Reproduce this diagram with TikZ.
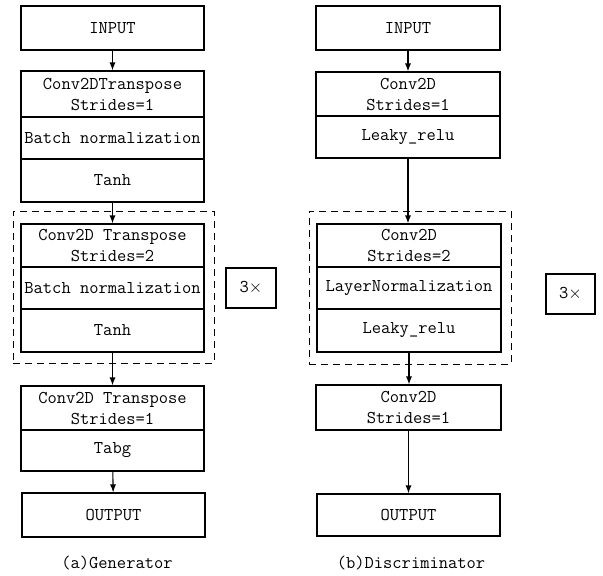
\documentclass[tikz,border=0pt]{standalone}
\usepackage{fontspec}
\usetikzlibrary{arrows.meta}
\begin{document}
\begin{tikzpicture}[x=1pt,y=-1pt,
  every node/.style={font=\ttfamily\fontsize{18}{21}\selectfont},
  blk/.style={draw, line width=1.1pt, rectangle, inner sep=0pt, align=center, minimum width=183pt},
  rep/.style={draw, line width=1.1pt, rectangle, inner sep=0pt, minimum width=50pt, minimum height=40pt},
  grp/.style={draw, line width=1pt, dash pattern=on 7pt off 5pt, rectangle, inner sep=0pt},
  arr/.style={line width=1.1pt, -{Latex[length=8pt,width=6pt]}},
  captxt/.style={inner sep=0pt}]
\useasboundingbox (0,0) rectangle (603,576);
% Generator
\node[blk, minimum height=44pt] (gin) at (112.5,28) {INPUT};
\node[blk, minimum height=46pt] (g1a) at (112.5,94) {Conv2DTranspose\\Strides=1};
\node[blk, minimum height=42pt] (g1b) at (112.5,138) {Batch normalization};
\node[blk, minimum height=43pt] (g1c) at (112.5,180.5) {Tanh};
\node[grp, minimum width=201pt, minimum height=152pt] (gdash) at (113.5,287) {};
\node[blk, minimum height=43pt] (g2a) at (112.5,245.5) {Conv2D Transpose\\Strides=2};
\node[blk, minimum height=42pt] (g2b) at (112.5,288) {Batch normalization};
\node[blk, minimum height=43pt] (g2c) at (112.5,330.5) {Tanh};
\node[rep] (grep) at (251,288) {3$\times$};
\node[blk, minimum height=44pt] (g3a) at (112.5,408) {Conv2D Transpose\\Strides=1};
\node[blk, minimum height=41pt] (g3b) at (112.5,450.5) {Tabg};
\node[blk, minimum height=44pt] (gout) at (113.5,515) {OUTPUT};
\node[captxt] (gcap) at (117,563) {(a)Generator};
\draw[arr] (gin) -- (g1a);
\draw[arr] (g1c) -- (g2a);
\draw[arr] (g2c) -- (g3a);
\draw[arr] (g3b) -- (gout);
% Discriminator
\node[blk, minimum width=184pt, minimum height=44pt] (din) at (408,28) {INPUT};
\node[blk, minimum width=184pt, minimum height=44pt] (d1a) at (408,94) {Conv2D\\Strides=1};
\node[blk, minimum width=184pt, minimum height=42pt] (d1b) at (408,137) {Leaky\_relu};
\node[grp, minimum width=202pt, minimum height=153pt] (ddash) at (410,287.5) {};
\node[blk, minimum width=184pt, minimum height=43pt] (d2a) at (409,245.5) {Conv2D\\Strides=2};
\node[blk, minimum width=184pt, minimum height=42pt] (d2b) at (409,288) {LayerNormalization};
\node[blk, minimum width=184pt, minimum height=43pt] (d2c) at (409,330.5) {Leaky\_relu};
\node[rep, minimum width=49pt] (drep) at (570.5,294) {3$\times$};
\node[blk, minimum width=185pt, minimum height=45pt] (d3) at (408.5,407.5) {Conv2D\\Strides=1};
\node[blk, minimum width=183pt, minimum height=42pt] (dout) at (408.5,515) {OUTPUT};
\node[captxt] (dcap) at (411,563) {(b)Discriminator};
\draw[arr] (din) -- (d1a);
\draw[arr] (d1b.south) -- (d1b.south |- d2a.north);
\draw[arr] (d2c.south) -- (d2c.south |- d3.north);
\draw[arr] (d3) -- (dout);
\end{tikzpicture}
\end{document}
